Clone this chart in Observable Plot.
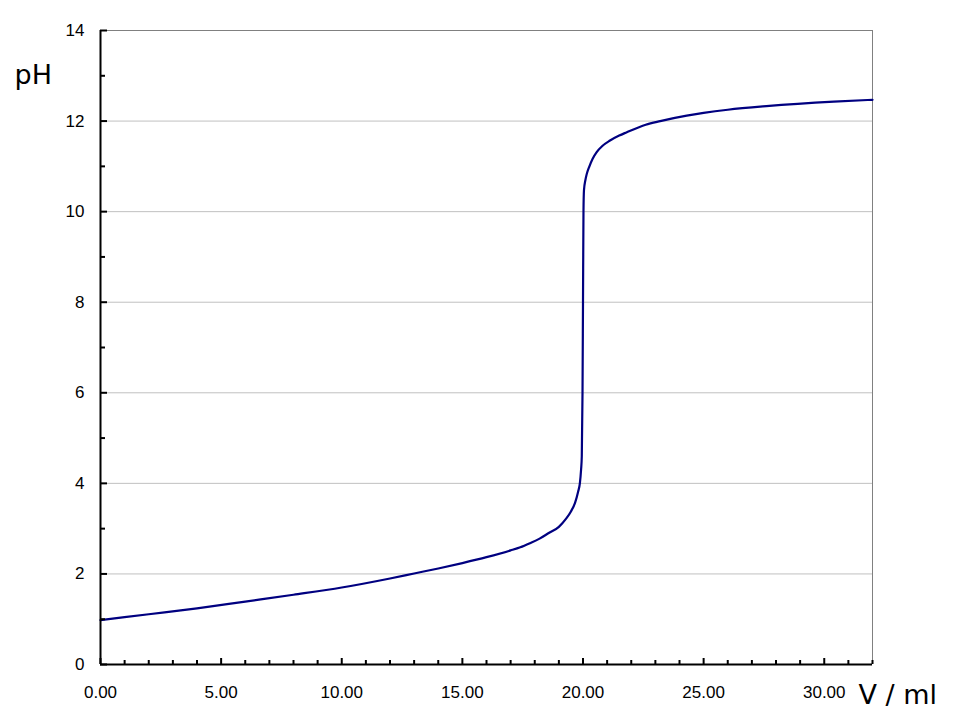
<!DOCTYPE html>
<html>
<head>
<meta charset="utf-8">
<script src="https://cdn.jsdelivr.net/npm/d3@7"></script>
<script src="https://cdn.jsdelivr.net/npm/@observablehq/plot@0.6"></script>
<style>
  html, body { margin: 0; padding: 0; background: #ffffff; }
  #chart svg { display: block; background: #ffffff; }
</style>
</head>
<body>
<div id="chart"></div>
<script>
// Titration curve values
const volume = [0, 2, 4, 6, 8, 10, 12, 13, 14, 15, 16, 17, 17.4, 17.8, 18.2, 18.6, 19.0, 19.3, 19.5, 19.67, 19.8, 19.87, 19.92, 19.95, 19.98, 20.0, 20.02, 20.04, 20.1, 20.15, 20.25, 20.4, 20.56, 20.8, 21.12, 21.5, 21.8, 22.6, 23.2, 24.3, 25, 26, 27.6, 30.4, 32];
const pH = [0.98, 1.11, 1.24, 1.39, 1.54, 1.70, 1.90, 2.01, 2.12, 2.24, 2.37, 2.52, 2.59, 2.68, 2.78, 2.91, 3.04, 3.22, 3.38, 3.57, 3.82, 4.0, 4.3, 4.6, 6.0, 8.0, 10.0, 10.47, 10.7, 10.82, 10.98, 11.17, 11.31, 11.45, 11.57, 11.68, 11.75, 11.92, 12.0, 12.12, 12.18, 12.25, 12.33, 12.43, 12.47];

const xMajorTicks = [0, 5, 10, 15, 20, 25, 30];
const xMinorTicks = [1, 2, 3, 4, 6, 7, 8, 9, 11, 12, 13, 14, 16, 17, 18, 19, 21, 22, 23, 24, 26, 27, 28, 29, 31, 32];
const yMajorTicks = [0, 2, 4, 6, 8, 10, 12, 14];
const yMinorTicks = [1, 3, 5, 7, 9, 11, 13];
const gridValues = [2, 4, 6, 8, 10, 12];
const yLabel = "pH";
const xLabel = "V / ml";

const data = volume.map((v, i) => ({v, pH: pH[i]}));

const font = "'Liberation Sans', Arial, sans-serif";
const titleFont = "'DejaVu Sans', Verdana, sans-serif";

const chart = Plot.plot({
  width: 960,
  height: 720,
  marginLeft: 100,
  marginRight: 88,
  marginTop: 30,
  marginBottom: 56,
  style: {fontFamily: font, background: "#ffffff", color: "#000"},
  x: {domain: [0, 32]},
  y: {domain: [0, 14]},
  marks: [
    Plot.ruleY(gridValues, {stroke: "#c0c0c0", strokeWidth: 1}),
    Plot.ruleY([14], {stroke: "#808080", strokeWidth: 1}),
    Plot.ruleX([32], {stroke: "#808080", strokeWidth: 1}),
    Plot.line(data, {x: "v", y: "pH", stroke: "#000080", strokeWidth: 2.2, curve: "monotone-x"}),
    Plot.ruleX([0], {stroke: "#000", strokeWidth: 2}),
    Plot.ruleY([0], {stroke: "#000", strokeWidth: 2}),
    // inward ticks
    Plot.axisY(yMajorTicks, {tickSize: 7, dx: 7, text: null, label: null, strokeWidth: 2, stroke: "#000"}),
    Plot.axisY(yMinorTicks, {tickSize: 5, dx: 5, text: null, label: null, strokeWidth: 2, stroke: "#000"}),
    Plot.axisX(xMajorTicks, {tickSize: 6, dy: -6, text: null, label: null, strokeWidth: 2, stroke: "#000"}),
    Plot.axisX(xMinorTicks, {tickSize: 4, dy: -4, text: null, label: null, strokeWidth: 2, stroke: "#000"}),
    // tick labels
    Plot.axisY(yMajorTicks, {tickSize: 0, tickPadding: 16, fontSize: 17, label: null, fill: "#000", tickFormat: d => String(d)}),
    Plot.axisX(xMajorTicks, {tickSize: 0, tickPadding: 21, fontSize: 17, label: null, fill: "#000", tickFormat: d => d.toFixed(2)}),
    // axis titles
    Plot.text([yLabel], {frameAnchor: "top-left", dx: -86, dy: 53, textAnchor: "start", lineAnchor: "bottom", fontSize: 27, fontFamily: titleFont, fill: "#000"}),
    Plot.text([xLabel], {frameAnchor: "bottom-right", dx: -14, dy: 39, textAnchor: "start", lineAnchor: "bottom", fontSize: 27, fontFamily: titleFont, fill: "#000"})
  ]
});

document.getElementById("chart").appendChild(chart);
</script>
</body>
</html>
